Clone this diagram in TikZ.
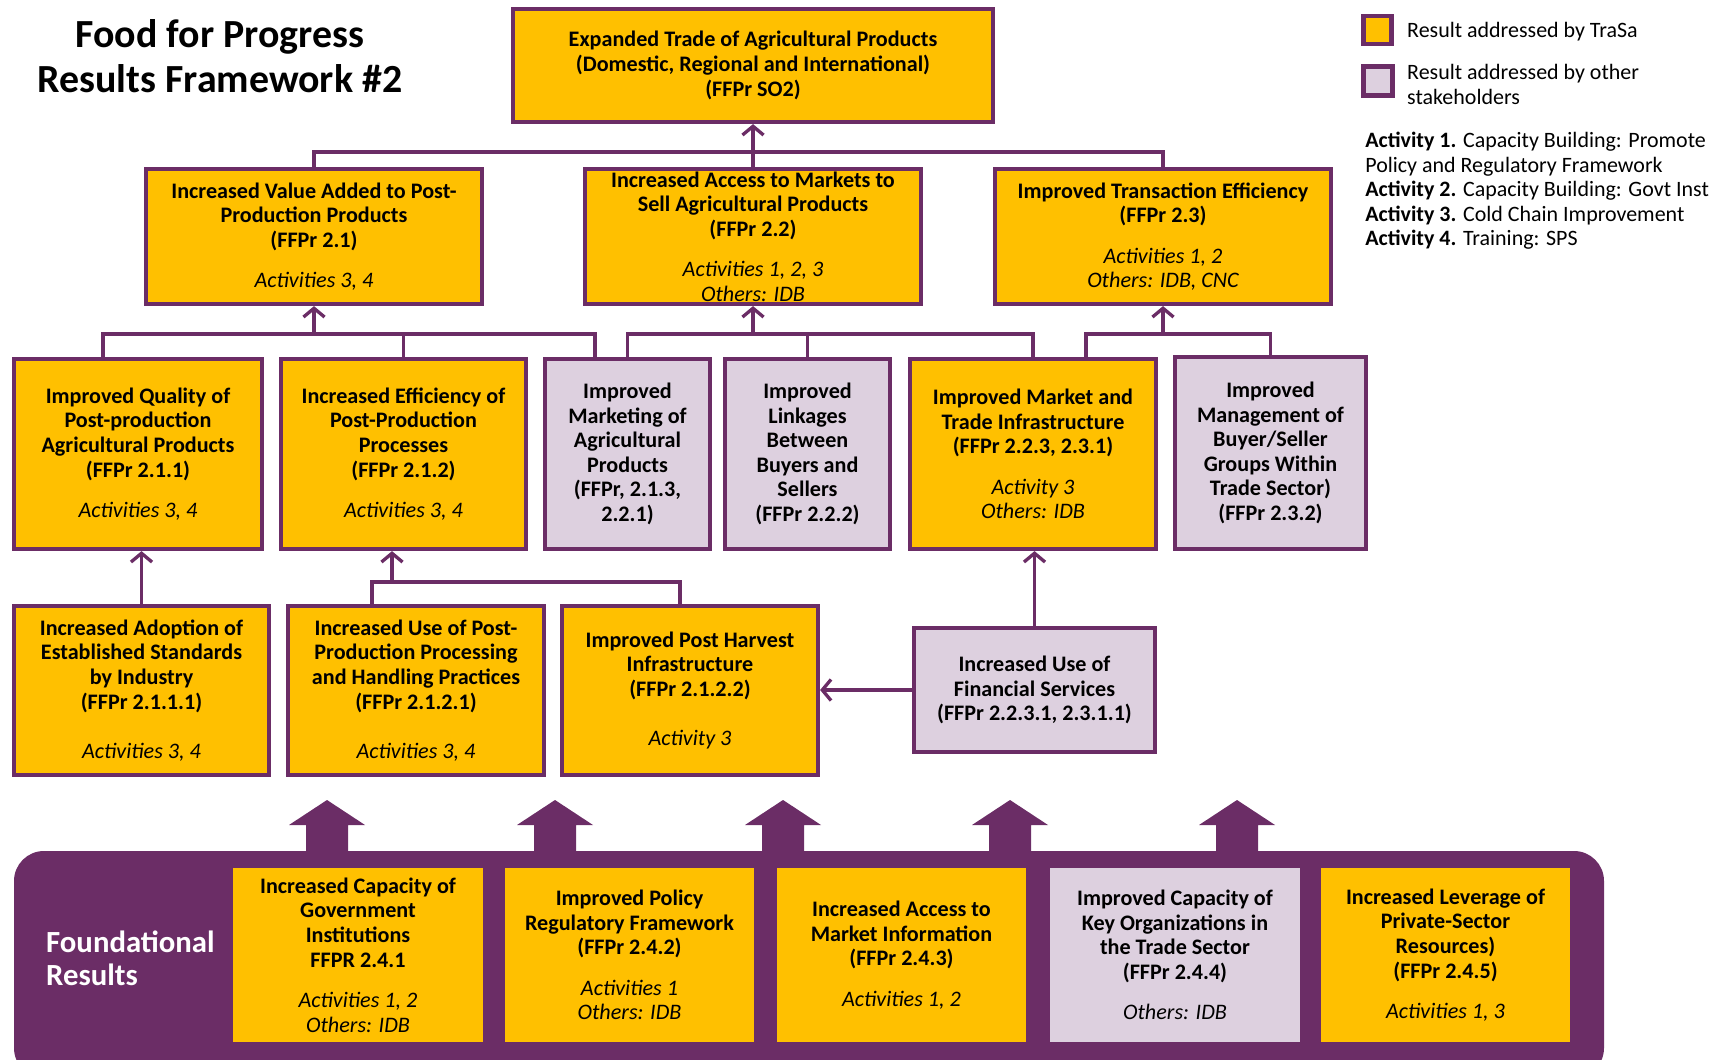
\documentclass[tikz,border=0pt]{standalone}
\usepackage{fontspec}
\setmainfont{Carlito}
\usepackage{tikz}
\usetikzlibrary{arrows.meta}
\definecolor{plum}{HTML}{6B2D66}
\definecolor{gold}{HTML}{FFC000}
\definecolor{lilac}{HTML}{DDD0DF}
\newcommand{\act}[1]{{\mdseries\itshape #1}}

\begin{document}
\begin{tikzpicture}[x=0.02cm, y=-0.02cm]
\tikzstyle{goal}=[draw=plum, line width=2.4pt, fill=gold, align=center, inner sep=0pt, font=\fontsize{12.6}{14}\selectfont\bfseries]
\tikzstyle{otherbox}=[goal, fill=lilac]
\tikzstyle{base}=[goal, draw=none, minimum width=5cm, minimum height=3.48cm]
\tikzstyle{link}=[draw=plum, line width=1.9pt]
\tikzstyle{linkarrow}=[link, -{Straight Barb[length=5pt, width=12pt]}]
\useasboundingbox (0,0) rectangle (1727,1060);
\clip (0,0) rectangle (1727,1060);

\node[font=\fontsize{22.7}{25.6}\selectfont\bfseries, align=center] (title) at (220,56) {Food for Progress\\Results Framework \#2};

\node[goal, minimum width=9.6cm, minimum height=2.26cm] (so2) at (753,65.5) {Expanded Trade of Agricultural Products\\(Domestic, Regional and International)\\(FFPr SO2)};

\node[goal, minimum width=6.72cm, minimum height=2.7cm] (r21) at (314,236.5) {Increased Value Added to Post-\\Production Products\\(FFPr 2.1)\\[9pt]\act{Activities 3, 4}};
\node[goal, minimum width=6.72cm, minimum height=2.7cm] (r22) at (753,236.5) {Increased Access to Markets to\\Sell Agricultural Products\\(FFPr 2.2)\\[9pt]\act{Activities 1, 2, 3}\\\act{Others: IDB}};
\node[goal, minimum width=6.72cm, minimum height=2.7cm] (r23) at (1163,236.5) {Improved Transaction Efficiency\\(FFPr 2.3)\\[9pt]\act{Activities 1, 2}\\\act{Others: IDB, CNC}};

\node[goal, minimum width=4.96cm, minimum height=3.8cm] (r211) at (138,454) {Improved Quality of\\Post-production\\Agricultural Products\\(FFPr 2.1.1)\\[9pt]\act{Activities 3, 4}};
\node[goal, minimum width=4.9cm, minimum height=3.8cm] (r212) at (403.5,454) {Increased Efficiency of\\Post-Production\\Processes\\(FFPr 2.1.2)\\[9pt]\act{Activities 3, 4}};
\node[otherbox, minimum width=3.3cm, minimum height=3.8cm] (r213) at (627.5,454) {Improved\\Marketing of\\Agricultural\\Products\\(FFPr, 2.1.3,\\2.2.1)};
\node[otherbox, minimum width=3.3cm, minimum height=3.8cm] (r222) at (807.5,454) {Improved\\Linkages\\Between\\Buyers and\\Sellers\\(FFPr 2.2.2)};
\node[goal, minimum width=4.92cm, minimum height=3.8cm] (r223) at (1033,454) {Improved Market and\\Trade Infrastructure\\(FFPr 2.2.3, 2.3.1)\\[9pt]\act{Activity 3}\\\act{Others: IDB}};
\node[otherbox, minimum width=3.82cm, minimum height=3.84cm] (r232) at (1270.5,453) {Improved\\Management of\\Buyer/Seller\\Groups Within\\Trade Sector)\\(FFPr 2.3.2)};

\node[goal, minimum width=5.1cm, minimum height=3.38cm] (r2111) at (141.5,690.5) {Increased Adoption of\\Established Standards\\by Industry\\(FFPr 2.1.1.1)\\[14pt]\act{Activities 3, 4}};
\node[goal, minimum width=5.12cm, minimum height=3.38cm] (r2121) at (416,690.5) {Increased Use of Post-\\Production Processing\\and Handling Practices\\(FFPr 2.1.2.1)\\[14pt]\act{Activities 3, 4}};
\node[goal, minimum width=5.12cm, minimum height=3.38cm] (r2122) at (690,690.5) {Improved Post Harvest\\Infrastructure\\(FFPr 2.1.2.2)\\[14pt]\act{Activity 3}};
\node[otherbox, minimum width=4.82cm, minimum height=2.48cm] (r2231) at (1034.5,690) {Increased Use of\\Financial Services\\(FFPr 2.2.3.1, 2.3.1.1)};

\coordinate (bus1) at (753,152);
\coordinate (busA) at (314,334);
\coordinate (busB) at (753,334);
\coordinate (busC) at (1163,334);
\coordinate (busE) at (392,582);

\draw[link] (r21.north) |- (bus1) -| (r23.north);
\draw[linkarrow] (r22.north) -- (so2.south);

\draw[link] ([xshift=-0.7cm]r211.north) |- (busA) -| ([xshift=-0.65cm]r213.north);
\draw[link] (r212.north) -- (r212.north |- busA);
\draw[linkarrow] (busA) -- (r21.south);
\draw[link] (r213.north) |- (busB) -| (r223.north);
\draw[link] (r222.north) -- (r222.north |- busB);
\draw[linkarrow] (busB) -- (r22.south);
\draw[link] ([xshift=1.06cm]r223.north) |- (busC) -| (r232.north);
\draw[linkarrow] (busC) -- (r23.south);

\draw[linkarrow] (r2111.north) -- (r2111.north |- r211.south);
\draw[link] ([xshift=-0.88cm]r2121.north) |- (busE) -| ([xshift=-0.2cm]r2122.north);
\draw[linkarrow] (busE) -- (busE |- r212.south);
\draw[linkarrow] (r2231.north) -- (r2231.north |- r223.south);
\draw[linkarrow] (r2231.west) -- (r2231.west -| r2122.east);

\foreach \x in {327,555,783,1010,1237}
  \fill[plum] (\x-21,853) -- (\x-21,825) -- (\x-38,825) -- (\x,800) -- (\x+38,825) -- (\x+21,825) -- (\x+21,853) -- cycle;
\fill[plum, rounded corners=0.6cm] (14,851) rectangle (1604,1078);

\node[anchor=west, align=left, text=white, font=\fontsize{17.5}{18.7}\selectfont\bfseries] (found) at (40,958.5) {Foundational\\Results};
\node[base] (r241) at (358,955) {Increased Capacity of\\Government\\Institutions\\FFPR 2.4.1\\[9pt]\act{Activities 1, 2}\\\act{Others: IDB}};
\node[base] (r242) at (629.5,955) {Improved Policy\\Regulatory Framework\\(FFPr 2.4.2)\\[9pt]\act{Activities 1}\\\act{Others: IDB}};
\node[base] (r243) at (901.5,955) {Increased Access to\\Market Information\\(FFPr 2.4.3)\\[9pt]\act{Activities 1, 2}};
\node[base, fill=lilac] (r244) at (1175,955) {Improved Capacity of\\Key Organizations in\\the Trade Sector\\(FFPr 2.4.4)\\[9pt]\act{Others: IDB}};
\node[base] (r245) at (1445.5,955) {Increased Leverage of\\Private-Sector\\Resources)\\(FFPr 2.4.5)\\[9pt]\act{Activities 1, 3}};

\node[goal, minimum size=0.56cm] (keygold) at (1377.5,30) {};
\node[otherbox, minimum size=0.58cm] (keylilac) at (1378,81) {};
\node[anchor=west, font=\fontsize{12.5}{14.2}\selectfont] (keygoldtext) at (1401,32) {Result addressed by TraSa};
\node[anchor=west, align=left, font=\fontsize{12.5}{14.2}\selectfont] (keylilactext) at (1401,84.5) {Result addressed by other\\stakeholders};
\node[anchor=north west, align=left, inner sep=0pt, font=\fontsize{12.5}{13.9}\selectfont] (activities) at (1365,132) {\textbf{Activity 1.} Capacity Building: Promote\\Policy and Regulatory Framework\\\textbf{Activity 2.} Capacity Building: Govt Inst\\\textbf{Activity 3.} Cold Chain Improvement\\\textbf{Activity 4.} Training: SPS};
\end{tikzpicture}
\end{document}
